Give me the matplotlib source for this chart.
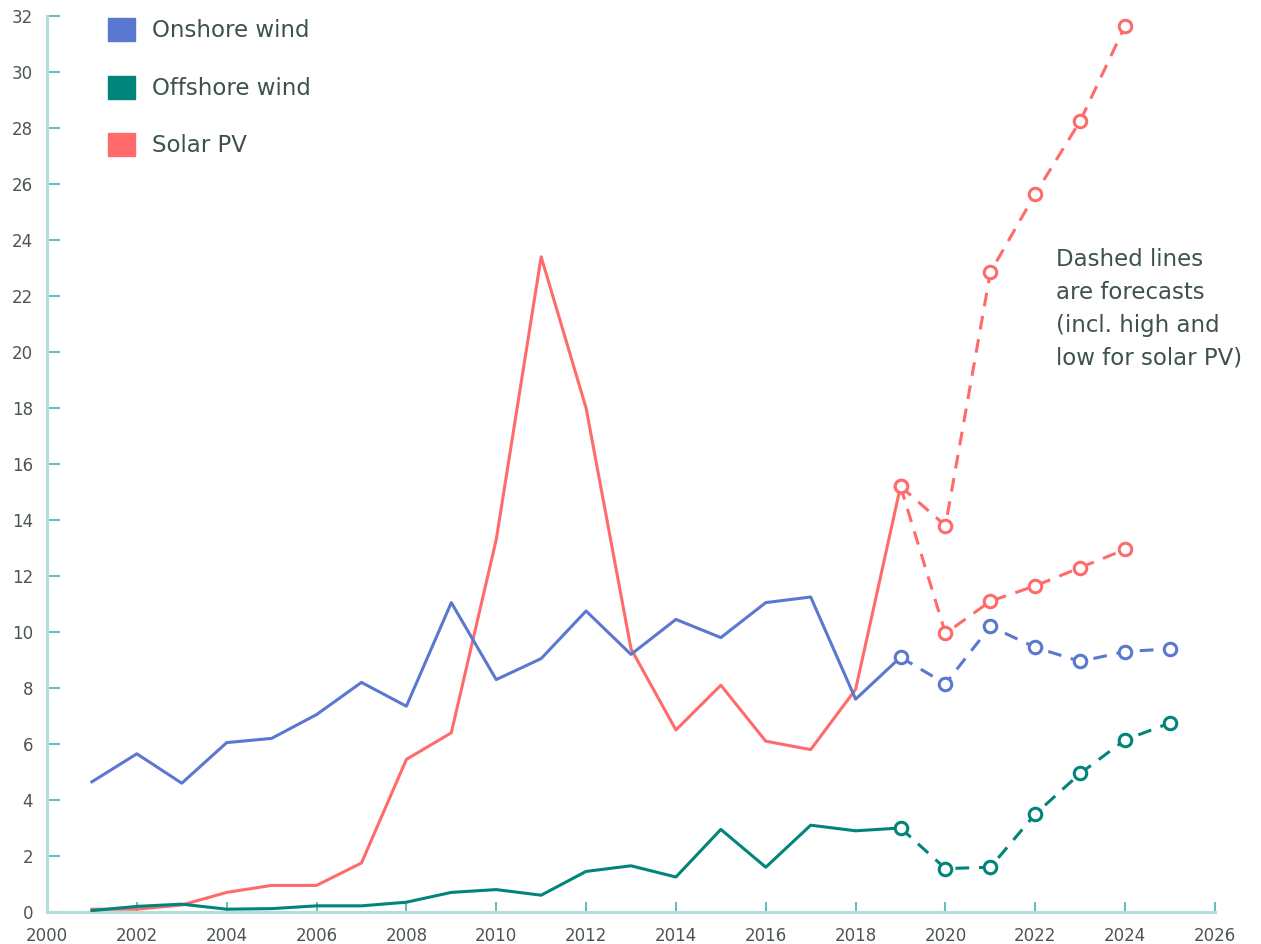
import matplotlib
matplotlib.use("Agg")
import matplotlib.pyplot as plt
from matplotlib.patches import Patch

years = list(range(2001, 2020))
onshore = [4.65, 5.65, 4.6, 6.05, 6.2, 7.05, 8.2, 7.35, 11.05, 8.3, 9.05, 10.75, 9.2, 10.45, 9.8, 11.05, 11.25, 7.6, 9.1]
offshore = [0.05, 0.2, 0.28, 0.1, 0.12, 0.22, 0.22, 0.35, 0.7, 0.8, 0.6, 1.45, 1.65, 1.25, 2.95, 1.6, 3.1, 2.9, 3.0]
solar = [0.1, 0.1, 0.25, 0.7, 0.95, 0.95, 1.75, 5.45, 6.4, 13.3, 23.4, 18.0, 9.4, 6.5, 8.1, 6.1, 5.8, 7.95, 15.2]

fc_years_wind = list(range(2019, 2026))
onshore_fc = [9.1, 8.15, 10.2, 9.45, 8.95, 9.3, 9.4]
offshore_fc = [3.0, 1.55, 1.6, 3.5, 4.95, 6.15, 6.75]
fc_years_solar = list(range(2019, 2025))
solar_fc_high = [15.2, 13.8, 22.85, 25.65, 28.25, 31.65]
solar_fc_low = [15.2, 9.95, 11.1, 11.65, 12.3, 12.95]

x_ticks = list(range(2000, 2027, 2))
y_ticks = list(range(0, 33, 2))

C_ON = "#5b78d0"
C_OFF = "#00857a"
C_SOL = "#ff6b6b"
C_AX = "#b2dede"
C_TICK = "#6bbcbc"
C_TXT = "#3e524c"
C_LBL = "#4d5552"

plt.rcParams['font.family'] = ['DejaVu Sans']

fig = plt.figure(figsize=(12.61, 9.44), dpi=100)
ax = fig.add_axes([47/1261, 1-912/944, (1215-47)/1261, (912-16)/944])
ax.set_xlim(2000, 2026)
ax.set_ylim(0, 32)

lw = 2.2
mk = dict(marker='o', markersize=9, markerfacecolor='white', markeredgewidth=2.2)
dash = (0, (4.5, 3.2))

ax.plot(years, solar, color=C_SOL, lw=lw, zorder=3)
ax.plot(years, onshore, color=C_ON, lw=lw, zorder=4)
ax.plot(years, offshore, color=C_OFF, lw=lw, zorder=4)

ax.plot(fc_years_solar, solar_fc_high, color=C_SOL, lw=lw, linestyle=dash, clip_on=False, zorder=3, **mk)
ax.plot(fc_years_solar, solar_fc_low, color=C_SOL, lw=lw, linestyle=dash, clip_on=False, zorder=3, **mk)
ax.plot(fc_years_wind, onshore_fc, color=C_ON, lw=lw, linestyle=dash, clip_on=False, zorder=4, **mk)
ax.plot(fc_years_wind, offshore_fc, color=C_OFF, lw=lw, linestyle=dash, clip_on=False, zorder=4, **mk)

for s in ['top', 'right']:
    ax.spines[s].set_visible(False)
for s in ['left', 'bottom']:
    ax.spines[s].set_color(C_AX)
    ax.spines[s].set_linewidth(2.2)

ax.set_xticks(x_ticks)
ax.set_yticks(y_ticks)
ax.tick_params(axis='both', direction='in', width=1.5, color=C_TICK,
               labelcolor=C_LBL, labelsize=12)
ax.tick_params(axis='x', pad=11, length=7)
ax.tick_params(axis='y', pad=10, length=9)

handles = [Patch(facecolor=C_ON, edgecolor=C_ON, label='Onshore wind'),
           Patch(facecolor=C_OFF, edgecolor=C_OFF, label='Offshore wind'),
           Patch(facecolor=C_SOL, edgecolor=C_SOL, label='Solar PV')]
leg = ax.legend(handles=handles, loc='upper left', bbox_to_anchor=(52/1168, 1.008),
                frameon=False, fontsize=16.5, handlelength=1.18, handleheight=1.18,
                labelspacing=1.45, handletextpad=0.74, borderaxespad=0)
for t in leg.get_texts():
    t.set_color(C_TXT)

ax.text(2022.45, 23.7, "Dashed lines\nare forecasts\n(incl. high and\nlow for solar PV)",
        fontsize=16.5, color=C_TXT, ha='left', va='top', linespacing=1.54)

fig.savefig("out.png", dpi=100, facecolor='white')
